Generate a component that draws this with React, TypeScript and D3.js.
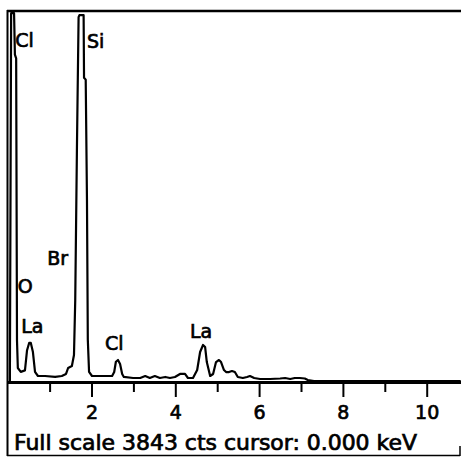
import * as d3 from "d3";
import React from "react";

// EDX spectrum (keV, counts)
const energy = [
	0.04, 0.07, 0.14, 0.16, 0.19, 0.21, 0.23, 0.3, 0.4, 0.45, 0.5, 0.54, 0.59,
	0.64, 0.71, 0.88, 1.12, 1.28, 1.38, 1.43, 1.52, 1.57, 1.6, 1.64, 1.68, 1.7,
	1.8, 1.81, 1.85, 1.88, 1.9, 1.93, 2.0, 2.19, 2.48, 2.53, 2.57, 2.62, 2.67,
	2.72, 2.76, 2.98, 3.15, 3.27, 3.38, 3.5, 3.62, 3.75, 3.86, 3.98, 4.1, 4.22,
	4.29, 4.41, 4.51, 4.58, 4.65, 4.7, 4.74, 4.82, 4.89, 4.96, 5.03, 5.08, 5.15,
	5.2, 5.27, 5.34, 5.41, 5.48, 5.6, 5.7, 5.77, 5.87, 6.01, 6.25, 6.49, 6.61,
	6.73, 6.84, 6.96, 7.08, 7.15, 7.3, 10.8,
];
const counts = [
	0, 3820, 3820, 3390, 3350, 420, 135, 95, 110, 320, 395, 395, 300, 95, 52, 52,
	42, 52, 73, 135, 156, 270, 840, 2400, 3780, 3800, 3800, 3150, 3130, 1880,
	430, 95, 52, 52, 52, 93, 200, 218, 177, 73, 42, 31, 31, 52, 31, 52, 31, 42,
	31, 42, 73, 73, 31, 31, 114, 301, 374, 353, 197, 52, 73, 197, 218, 197, 114,
	93, 93, 104, 93, 42, 31, 42, 52, 31, 21, 21, 26, 31, 21, 31, 31, 26, 10, 0,
	0,
];

const fullScale = 3843;
const majorTicks = [2, 4, 6, 8, 10];
const minorTicks = [1, 3, 5, 7, 9];

const peakNames = ["Cl", "Si", "Br", "O", "La", "Cl", "La"];
const peakKeV = [0.17, 1.88, 0.93, 0.23, 0.31, 2.31, 4.34];
const peakCounts = [3469, 3459, 1205, 914, 499, 322, 447];

const footer = "Full scale 3843 cts cursor: 0.000 keV";

const W = 461;
const H = 457;
const FONT = "'DejaVu Sans', sans-serif";
// plotter text: regular face with a thin outline to thicken strokes
const ink = { fill: "#000", stroke: "#000", strokeWidth: 0.7 };

export default function App() {
	const x = d3.scaleLinear().domain([0, 10]).range([8.2, 427.2]);
	const y = d3.scaleLinear().domain([0, fullScale]).range([381, 11]);

	const line = d3
		.line<number>()
		.x((i) => x(energy[i]))
		.y((i) => y(counts[i]));
	const path = line(d3.range(energy.length)) ?? "";

	const base = 382.5;

	return (
		<div style={{ position: "fixed", left: 0, top: 0 }}>
			<svg width={W} height={H} style={{ display: "block", background: "#fff" }}>
				{/* frame */}
				<line x1={7.5} x2={7.5} y1={10} y2={456} stroke="#000" strokeWidth={2} />
				<line x1={7} x2={461} y1={11} y2={11} stroke="#000" strokeWidth={2.5} />
				<line x1={7} x2={460} y1={455.5} y2={455.5} stroke="#000" strokeWidth={1.5} />
				<line x1={460} x2={460} y1={446} y2={456} stroke="#000" strokeWidth={1.5} />

				{/* spectrum */}
				<path d={path} fill="none" stroke="#000" strokeWidth={2.2} strokeLinejoin="round" />

				{/* energy axis */}
				<line x1={7} x2={461} y1={base} y2={base} stroke="#000" strokeWidth={3} />
				{majorTicks.map((t) => (
					<g key={t}>
						<line x1={x(t)} x2={x(t)} y1={base} y2={397} stroke="#000" strokeWidth={2} />
						<text
							x={x(t)}
							y={418.5}
							textAnchor="middle"
							fontFamily={FONT}
							fontSize={19}
							{...ink}
						>
							{t}
						</text>
					</g>
				))}
				{minorTicks.map((t) => (
					<line key={t} x1={x(t)} x2={x(t)} y1={base} y2={392} stroke="#000" strokeWidth={2} />
				))}

				{/* peak labels */}
				{peakNames.map((n, i) => (
					<text
						key={i}
						x={x(peakKeV[i])}
						y={y(peakCounts[i])}
						fontFamily={FONT}
						fontSize={19}
						{...ink}
					>
						{n}
					</text>
				))}

				<text
					x={14}
					y={450}
					fontFamily={FONT}
					fontSize={20.5}
					textLength={403}
					lengthAdjust="spacingAndGlyphs"
					{...ink}
				>
					{footer}
				</text>
			</svg>
		</div>
	);
}
